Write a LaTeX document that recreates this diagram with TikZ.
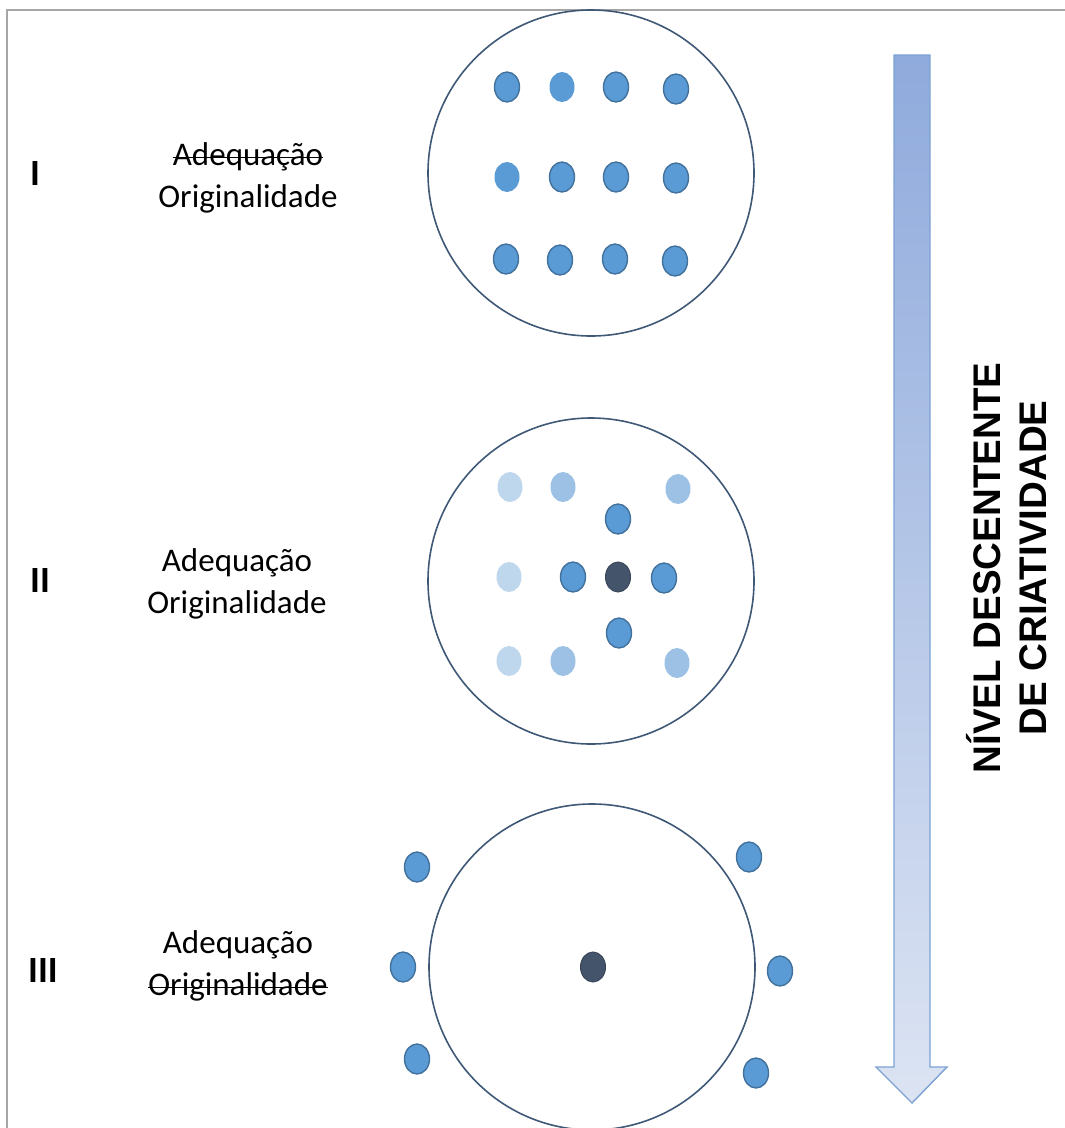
\documentclass[tikz,border=0pt]{standalone}
\usepackage{fontspec}
\setmainfont{Carlito}
\newfontfamily\headfont{Liberation Sans}
\newcommand{\crossout}[1]{\setbox0\hbox{#1}\rlap{\rule[0.23em]{\wd0}{1.5pt}}\box0}

\definecolor{dotblue}{RGB}{91,155,213}
\definecolor{dotline}{RGB}{65,113,156}
\definecolor{corefill}{RGB}{68,84,106}
\definecolor{faintA}{RGB}{190,215,237}
\definecolor{faintB}{RGB}{157,193,229}
\definecolor{ringline}{RGB}{62,88,118}
\definecolor{arrtop}{RGB}{143,170,220}
\definecolor{arrbot}{RGB}{220,228,243}
\definecolor{arrline}{RGB}{124,162,212}

\tikzset{
  ring/.style={draw=ringline, line width=1.6pt},
  dot/.style={draw=dotline, fill=dotblue, line width=1.4pt},
  soft/.style={fill=dotblue},
  core/.style={draw=corefill!85!black, fill=corefill, line width=1pt},
  fadeA/.style={fill=faintA},
  fadeB/.style={fill=faintB},
  numeral/.style={font=\fontsize{37}{40}\selectfont\bfseries},
  terms/.style={align=center, font=\fontsize{33}{42}\selectfont},
}

\begin{document}
\begin{tikzpicture}[x=1pt, y=-1pt]
\useasboundingbox (0,0) rectangle (1065,1128);
\draw[gray!70, line width=2pt] (7,1128) -- (7,10) -- (1065,10);

\coordinate (C1) at (591,173); \coordinate (C2) at (591,581); \coordinate (C3) at (592,967);
\foreach \c in {C1,C2,C3} \draw[ring] (\c) circle[radius=163pt];

% level I
\foreach \x/\y/\s in {507/87/dot, 562/87/soft, 616/87/dot, 676/89/dot,
                      507/177/soft, 562/177/dot, 616/177/dot, 676/178/dot,
                      506/259/dot, 560/260/dot, 615/259/dot, 675/261/dot}
  \path[\s] (\x,\y) ellipse[x radius=12.5pt, y radius=15pt];

% level II
\foreach \x/\y/\s in {510/487/fadeA, 563/487/fadeB, 678/489/fadeB,
                      618/519/dot,
                      509/577/fadeA, 573/577/dot, 618/577/core, 664/578/dot,
                      619/633/dot,
                      509/661/fadeA, 563/661/fadeB, 677/663/fadeB}
  \path[\s] (\x,\y) ellipse[x radius=12.5pt, y radius=15pt];

% level III
\foreach \x/\y/\s in {417/867/dot, 403/967/dot, 417/1059/dot,
                      749/857/dot, 780/971/dot, 756/1073/dot, 593/967/core}
  \path[\s] (\x,\y) ellipse[x radius=12.5pt, y radius=15pt];

\node[numeral] (n1) at (35,173) {I};
\node[numeral] (n2) at (40,580) {II};
\node[numeral] (n3) at (43,970) {III};
\node[terms] (t1) at (248,178) {\crossout{Adequação}\\Originalidade};
\node[terms] (t2) at (237,584) {Adequação\\Originalidade};
\node[terms] (t3) at (238,966) {Adequação\\\crossout{Originalidade}};

\shade[top color=arrtop, bottom color=arrbot, draw=arrline, line width=1.4pt]
  (894,55) -- (930,55) -- (930,1067) -- (947,1067) -- (912,1103)
  -- (876,1067) -- (894,1067) -- cycle;
\node[rotate=90, align=center, font=\headfont\bfseries\fontsize{38.5}{46}\selectfont]
  (lvl) at (1007,568) {NÍVEL DESCENTENTE\\DE CRIATIVIDADE};
\end{tikzpicture}
\end{document}
